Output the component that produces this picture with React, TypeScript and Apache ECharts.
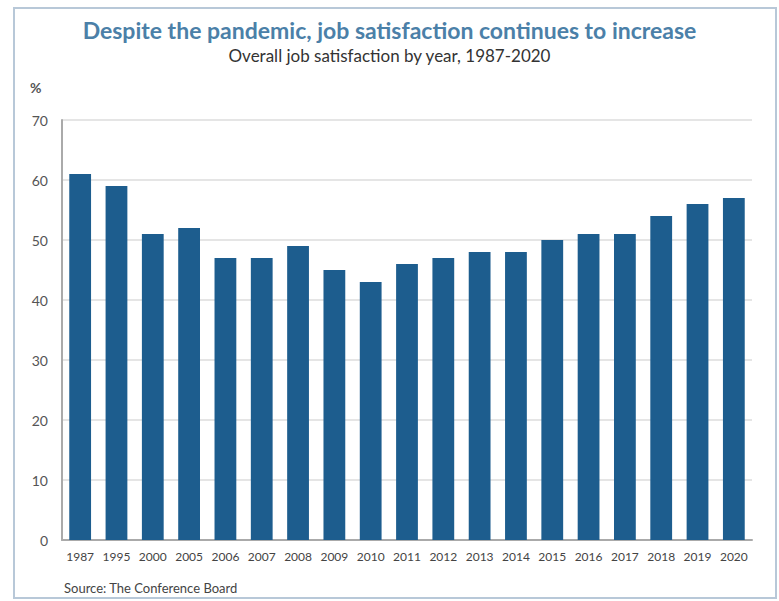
import React, { useEffect, useRef } from "react";
import * as echarts from "echarts";

const years = ["1987","1995","2000","2005","2006","2007","2008","2009","2010","2011","2012","2013","2014","2015","2016","2017","2018","2019","2020"];
const satisfaction = [61, 59, 51, 52, 47, 47, 49, 45, 43, 46, 47, 48, 48, 50, 51, 51, 54, 56, 57];
const titleText = "Despite the pandemic, job satisfaction continues to increase";
const subtitleText = "Overall job satisfaction by year, 1987-2020";
const sourceText = "Source: The Conference Board";

export default function App() {
  const ref = useRef<HTMLDivElement>(null);
  useEffect(() => {
    const chart = echarts.init(ref.current!, null, { renderer: "svg" });
    chart.setOption({
      animation: false,
      backgroundColor: "#ffffff",
      title: {
        text: titleText,
        subtext: subtitleText,
        left: "center",
        top: 13,
        itemGap: 6,
        textStyle: { fontFamily: "Lato", fontWeight: "bold", fontSize: 23, color: "#4b80a8" },
        subtextStyle: { fontFamily: "Lato", fontSize: 17, color: "#333333" },
      },
      graphic: [
        { type: "rect", shape: { x: 14, y: 8, width: 762, height: 590 }, style: { fill: "none", stroke: "#b8c8d8", lineWidth: 2 }, z: -1 },
        { type: "text", left: 30, top: 80, style: { text: "%", font: "bold 14px Lato", fill: "#555555" } },
        { type: "text", left: 64, top: 581, style: { text: sourceText, font: "13px Lato", fill: "#444444" } },
      ],
      grid: { left: 62, right: 27, top: 120, bottom: 61, containLabel: false },
      xAxis: {
        type: "category",
        data: years,
        axisLine: { lineStyle: { color: "#aaaaaa", width: 2 } },
        axisTick: { show: false },
        axisLabel: { fontFamily: "Lato", fontSize: 12, color: "#444444", interval: 0, margin: 10 },
      },
      yAxis: {
        type: "value",
        min: 0,
        max: 70,
        interval: 10,
        axisLine: { show: true, lineStyle: { color: "#aaaaaa", width: 2 } },
        axisTick: { show: false },
        axisLabel: { fontFamily: "Lato", fontSize: 14, color: "#555555", margin: 14 },
        splitLine: { lineStyle: { color: "#dddddd", width: 1.5 } },
      },
      series: [
        {
          type: "bar",
          data: satisfaction,
          barWidth: "60%",
          itemStyle: { color: "#1d5d8e" },
        },
      ],
    });
    return () => chart.dispose();
  }, []);
  return <div ref={ref} style={{ width: 779, height: 601, position: "absolute", left: 0, top: 0 }} />;
}
